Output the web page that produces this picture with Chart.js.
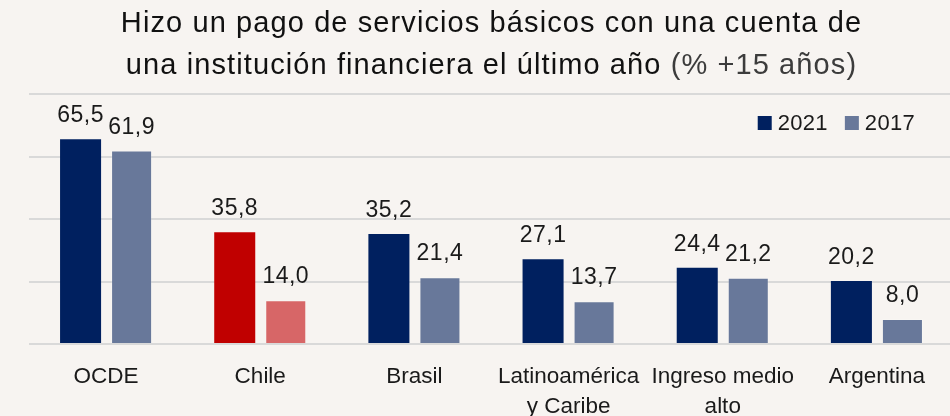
<!DOCTYPE html>
<html>
<head>
<meta charset="utf-8">
<script src="https://cdn.jsdelivr.net/npm/chart.js@4.4.1/dist/chart.umd.min.js"></script>
<style>
  html, body { margin: 0; padding: 0; background: #f7f4f1; overflow: hidden; }
  #wrap { width: 954px; height: 416px; }
</style>
</head>
<body>
<div id="wrap"><canvas id="myChart" width="954" height="416"></canvas></div>
<script>
const categories = ['OCDE', 'Chile', 'Brasil', ['Latinoamérica', 'y Caribe'], ['Ingreso medio', 'alto'], 'Argentina'];
const values2021 = [65.5, 35.8, 35.2, 27.1, 24.4, 20.2];
const values2017 = [61.9, 14.0, 21.4, 13.7, 21.2, 8.0];
const yTicks = [0, 20, 40, 60, 80];
const titleLines = [
  [['Hizo un pago de servicios básicos con una cuenta de', '#111111']],
  [['una institución financiera el último año ', '#111111'], ['(% +15 años)', '#3c3c3c']]
];

const highlight = 1; // Chile
const colors2021 = categories.map((c, i) => i === highlight ? '#c00000' : '#00205f');
const colors2017 = categories.map((c, i) => i === highlight ? '#d76667' : '#68789a');

const FONT = '"Liberation Sans", Arial, sans-serif';

// two-line title, centred over the plot, with a lighter unit part
const chartTitle = {
  id: 'chartTitle',
  afterDraw(chart) {
    const ctx = chart.ctx;
    const area = chart.chartArea;
    const cx = (area.left + area.right) / 2;
    ctx.save();
    ctx.font = '29px ' + FONT;
    ctx.letterSpacing = '1.1px';
    ctx.textBaseline = 'alphabetic';
    ctx.textAlign = 'left';
    const baselines = [32, 74];
    titleLines.forEach((parts, li) => {
      const w = parts.reduce((s, p) => s + ctx.measureText(p[0]).width, 0);
      let x = cx - w / 2;
      parts.forEach(p => {
        ctx.fillStyle = p[1];
        ctx.fillText(p[0], x, baselines[li]);
        x += ctx.measureText(p[0]).width;
      });
    });
    ctx.restore();
  }
};

// value labels above each bar, decimal comma
const barLabels = {
  id: 'barLabels',
  afterDatasetsDraw(chart) {
    const ctx = chart.ctx;
    ctx.save();
    ctx.font = '23px ' + FONT;
    ctx.letterSpacing = '0.5px';
    ctx.fillStyle = '#1a1a1a';
    ctx.textAlign = 'center';
    ctx.textBaseline = 'alphabetic';
    chart.data.datasets.forEach((ds, di) => {
      chart.getDatasetMeta(di).data.forEach((bar, i) => {
        ctx.fillText(ds.data[i].toFixed(1).replace('.', ','), bar.x, bar.y - 17);
      });
    });
    ctx.restore();
  }
};

// legend drawn inside the plot, top right
const innerLegend = {
  id: 'innerLegend',
  afterDraw(chart) {
    const ctx = chart.ctx;
    const area = chart.chartArea;
    ctx.save();
    ctx.font = '22px ' + FONT;
    ctx.letterSpacing = '0.3px';
    ctx.textBaseline = 'middle';
    const box = 14, gapText = 6, gapItem = 17;
    const items = chart.data.datasets.map(ds => ({ label: ds.label, color: ds.legendColor }));
    let total = 0;
    items.forEach((it, i) => {
      total += box + gapText + ctx.measureText(it.label).width + (i < items.length - 1 ? gapItem : 0);
    });
    let x = area.right - 39 - total;
    const y = 123;
    items.forEach(it => {
      ctx.fillStyle = it.color;
      ctx.fillRect(x, y - box / 2, box, box);
      x += box + gapText;
      ctx.fillStyle = '#1a1a1a';
      ctx.fillText(it.label, x, y + 1);
      x += ctx.measureText(it.label).width + gapItem;
    });
    ctx.restore();
  }
};

new Chart(document.getElementById('myChart'), {
  type: 'bar',
  data: {
    labels: categories,
    datasets: [
      {
        label: '2021',
        data: values2021,
        backgroundColor: colors2021,
        legendColor: '#00205f',
        categoryPercentage: 0.662,
        barPercentage: 0.804
      },
      {
        label: '2017',
        data: values2017,
        backgroundColor: colors2017,
        borderColor: 'rgba(255,255,255,0.2)',
        borderWidth: 1,
        legendColor: '#68789a',
        categoryPercentage: 0.662,
        barPercentage: 0.804
      }
    ]
  },
  options: {
    responsive: false,
    animation: false,
    layout: { padding: { left: 29, right: 0, top: 94, bottom: 0 } },
    plugins: {
      legend: { display: false },
      tooltip: { enabled: false },
      title: { display: false }
    },
    scales: {
      y: {
        min: 0,
        max: 80,
        afterBuildTicks: (scale) => { scale.ticks = yTicks.map(v => ({ value: v })); },
        ticks: { display: false },
        border: { display: false },
        grid: { color: '#d9d9d9', lineWidth: 2, drawTicks: false },
        afterFit: (scale) => { scale.width = 0; }
      },
      x: {
        border: { display: false },
        grid: { display: false, drawTicks: false },
        ticks: {
          color: '#1a1a1a',
          padding: 18,
          maxRotation: 0,
          autoSkip: false,
          font: { family: FONT, size: 22.5, lineHeight: 1.34 }
        },
        afterFit: (scale) => { scale.height = 72; }
      }
    }
  },
  plugins: [barLabels, innerLegend, chartTitle]
});
</script>
</body>
</html>
